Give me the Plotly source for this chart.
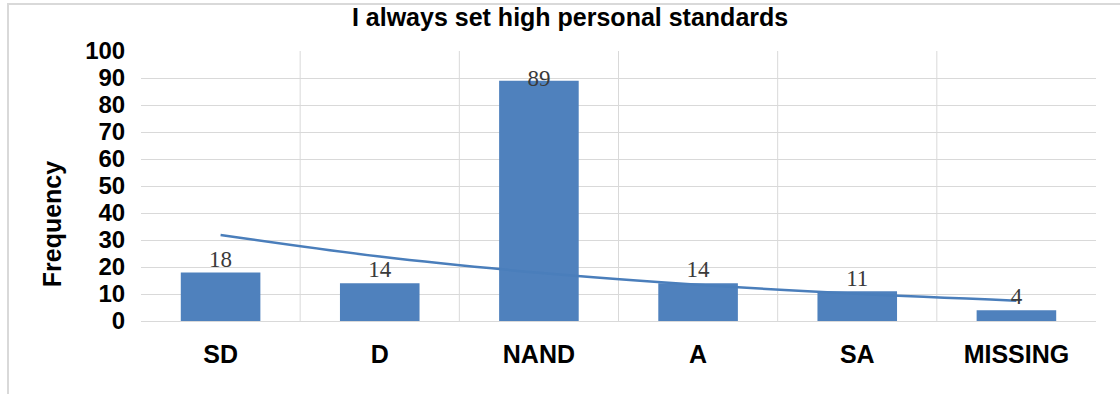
import numpy as np
import plotly.graph_objects as go

categories = ["SD", "D", "NAND", "A", "SA", "MISSING"]
frequency = [18, 14, 89, 14, 11, 4]
y_ticks = [0, 10, 20, 30, 40, 50, 60, 70, 80, 90, 100]
title_text = "I always set high personal standards"
y_title = "Frequency"

# Exponential trendline fitted to the data (as in the original spreadsheet chart)
xi = np.arange(1, len(frequency) + 1)
b, ln_a = np.polyfit(xi, np.log(frequency), 1)
trend = np.exp(ln_a + b * xi)

BAR = "#4f81bd"
GRID = "#d9d9d9"

fig = go.Figure()
fig.add_trace(go.Bar(x=categories, y=frequency, marker=dict(color=BAR, line=dict(width=0)),
                     width=0.5, hoverinfo="x+y"))
fig.add_trace(go.Scatter(x=categories, y=trend, mode="lines",
                         line=dict(color="#4a7ebb", width=2.5, shape="spline"),
                         hoverinfo="skip"))
label_pos = ["middle center" if v > 80 else "top center" for v in frequency]
fig.add_trace(go.Scatter(x=categories, y=frequency, mode="text",
                         text=[str(v) for v in frequency], textposition=label_pos,
                         textfont=dict(family="Liberation Serif", size=23, color="#3a3a3a"),
                         hoverinfo="skip", cliponaxis=False))

# category boundary gridlines
for k in range(1, len(categories)):
    fig.add_shape(type="line", xref="x", yref="y", x0=k - 0.5, x1=k - 0.5, y0=0, y1=100,
                  line=dict(color=GRID, width=1), layer="below")

# outer chart border (left edge at x=8px, top edge at y=4px)
fig.add_shape(type="rect", xref="paper", yref="paper",
              x0=(8 - 141) / 955, x1=(1130 - 141) / 955,
              y0=(321 - 400) / 270, y1=(321 - 4) / 270,
              line=dict(color="#d9d9d9", width=2), layer="above")

fig.add_annotation(text=y_title, xref="paper", yref="paper", x=-0.093, y=0.359,
                   xanchor="center", yanchor="middle", textangle=-90, showarrow=False,
                   font=dict(family="Liberation Sans", size=25, color="#000000", weight="bold"))

fig.update_layout(
    width=1120, height=394,
    margin=dict(l=141, r=24, t=51, b=73),
    paper_bgcolor="white", plot_bgcolor="white",
    showlegend=False,
    title=dict(text=title_text, x=0.509, xref="container", xanchor="center",
               y=1 - 17 / 394, yref="container", yanchor="middle",
               font=dict(family="Liberation Sans", size=25, color="#000000", weight="bold")),
    xaxis=dict(type="category", showgrid=False, showline=False, zeroline=False,
               ticks="outside", ticklen=11, tickcolor="rgba(0,0,0,0)",
               tickfont=dict(family="Liberation Sans", size=25, color="#000000", weight="bold"),
               range=[-0.5, 5.5]),
    yaxis=dict(range=[0, 100], tickvals=y_ticks, showgrid=True, gridcolor=GRID, gridwidth=1,
               zeroline=True, zerolinecolor=GRID, zerolinewidth=1, showline=False,
               ticks="outside", ticklen=10, tickcolor="rgba(0,0,0,0)",
               tickfont=dict(family="Liberation Sans", size=24, color="#000000", weight="bold")),
    bargap=0.5,
)

fig.write_html("out.html", config={"displayModeBar": False},
               post_script="document.body.style.margin='0px';")
